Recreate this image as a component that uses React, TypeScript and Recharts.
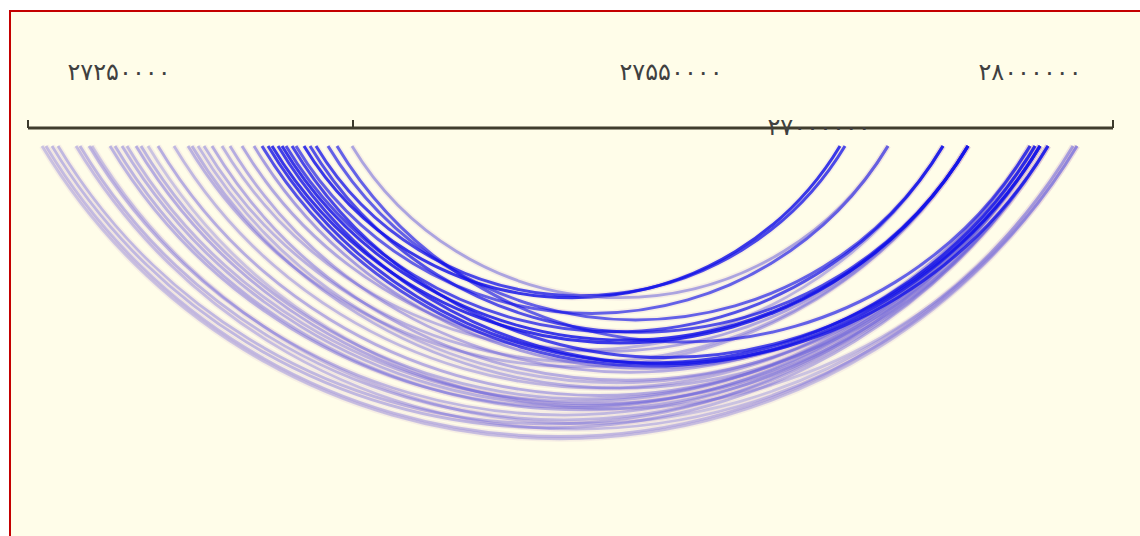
import React from 'react';
import { ScatterChart, Scatter, XAxis, YAxis } from 'recharts';

// link endpoints (bp)
const arcStart = [
    27214000, 27218000, 27224000, 27230000, 27248000, 27252000, 27261000, 27264000,
    27282000, 27287000, 27294000, 27299000, 27308000, 27313000, 27320000, 27330000,
    27346000, 27360000, 27364000, 27370000, 27376000, 27384000, 27394000, 27402000,
    27414000, 27426000, 27434000, 27440000, 27444000, 27450000, 27454000, 27458000,
    27464000, 27468000, 27476000, 27482000, 27488000, 27500000, 27509000, 27524000,
];
const arcEnd = [
    28249000, 28245000, 28220000, 28212000, 28249000, 28220000, 28212000, 28245000,
    28207000, 28220000, 28212000, 28202000, 28220000, 28207000, 28249000, 28212000,
    28202000, 28140000, 28220000, 28207000, 28140000, 28212000, 28115000, 28202000,
    28140000, 28212000, 28212000, 28207000, 28140000, 28220000, 28140000, 28115000,
    28212000, 28060000, 28012000, 28140000, 28017000, 28115000, 28202000, 28060000,
];
// link strength 0..1
const arcWeight = [
    0.15, 0.2, 0.25, 0.25, 0.2, 0.25, 0.25, 0.15,
    0.3, 0.3, 0.3, 0.25, 0.35, 0.3, 0.15, 0.35,
    0.25, 0.3, 0.3, 0.25, 0.3, 0.35, 0.3, 0.35,
    0.4, 0.5, 0.7, 0.8, 0.85, 0.8, 0.85, 0.7,
    0.75, 0.6, 0.85, 0.7, 0.75, 0.6, 0.6, 0.45,
];

const axisMarks = [27200000, 27525000, 28285000];
const labelPositions = [27291000, 27843000, 28202000, 27991000];
const labelTexts = ['۲۷۲۵۰۰۰۰', '۲۷۵۵۰۰۰۰', '۲۸۰۰۰۰۰۰', '۲۷۰۰۰۰۰۰'];
const labelRows = [0, 0, 0, 1];

const endpoints = arcStart.flatMap((s, i) => [{ pos: s, y: 0 }, { pos: arcEnd[i], y: 0 }]);
const allTicks = [...axisMarks, ...labelPositions].sort((a, b) => a - b);

const ARC_HALF_ANGLE = (59 * Math.PI) / 180;

const AxisTick = (props: any) => {
    const { x, y, payload } = props;
    const li = labelPositions.indexOf(payload.value);
    if (li >= 0) {
        return (
            <text x={x} y={y + (labelRows[li] ? 7 : -48)} textAnchor="middle" fontSize={24}
                fontFamily="DejaVu Sans" fill="#404040">
                {labelTexts[li]}
            </text>
        );
    }
    return <line x1={x} x2={x} y1={y} y2={y - 8} stroke="#3c3a2c" strokeWidth={2} />;
};

// pairs of endpoints -> circular arcs hanging under the axis
const renderArcs = (props: any) => {
    const pts = props.points || [];
    const halos: React.ReactNode[] = [];
    const lines: React.ReactNode[] = [];
    arcWeight.forEach((w, i) => {
        const a = pts[2 * i];
        const b = pts[2 * i + 1];
        if (!a || !b) return;
        const r = (b.x - a.x) / 2 / Math.sin(ARC_HALF_ANGLE);
        const d = `M${a.x},${a.y} A${r},${r} 0 0 0 ${b.x},${b.y}`;
        halos.push(<path key={'h' + i} d={d} fill="none" stroke="#d0a8d0" strokeOpacity={0.16} strokeWidth={6} />);
        lines.push(
            <path key={'a' + i} d={d} fill="none" stroke={w > 0.5 ? '#1414e8' : '#6a62dc'}
                strokeOpacity={0.2 + 0.75 * w} strokeWidth={w > 0.5 ? 3 : 2.8} />
        );
    });
    return <g>{halos}{lines}</g>;
};

export default function App() {
    return (
        <div style={{
            position: 'fixed', left: 9, top: 10, width: 1131, height: 526,
            borderTop: '2px solid #c40000', borderLeft: '2px solid #c40000', background: '#fffde9',
        }}>
            <ScatterChart width={1129} height={524} margin={{ top: 56, right: 27, bottom: 20, left: 17 }}>
                <XAxis type="number" dataKey="pos" orientation="top" height={60}
                    domain={[27200000, 28285000]} ticks={allTicks} interval={0}
                    tickLine={false} tickSize={0} tickMargin={0} tick={<AxisTick />}
                    axisLine={{ stroke: '#403d2d', strokeWidth: 3 }} />
                <YAxis type="number" dataKey="y" domain={[-1, 0]} hide padding={{ top: 18, bottom: 0 }} />
                <Scatter data={endpoints} line={renderArcs} lineType="joint"
                    shape={() => <g />} isAnimationActive={false} />
            </ScatterChart>
        </div>
    );
}
